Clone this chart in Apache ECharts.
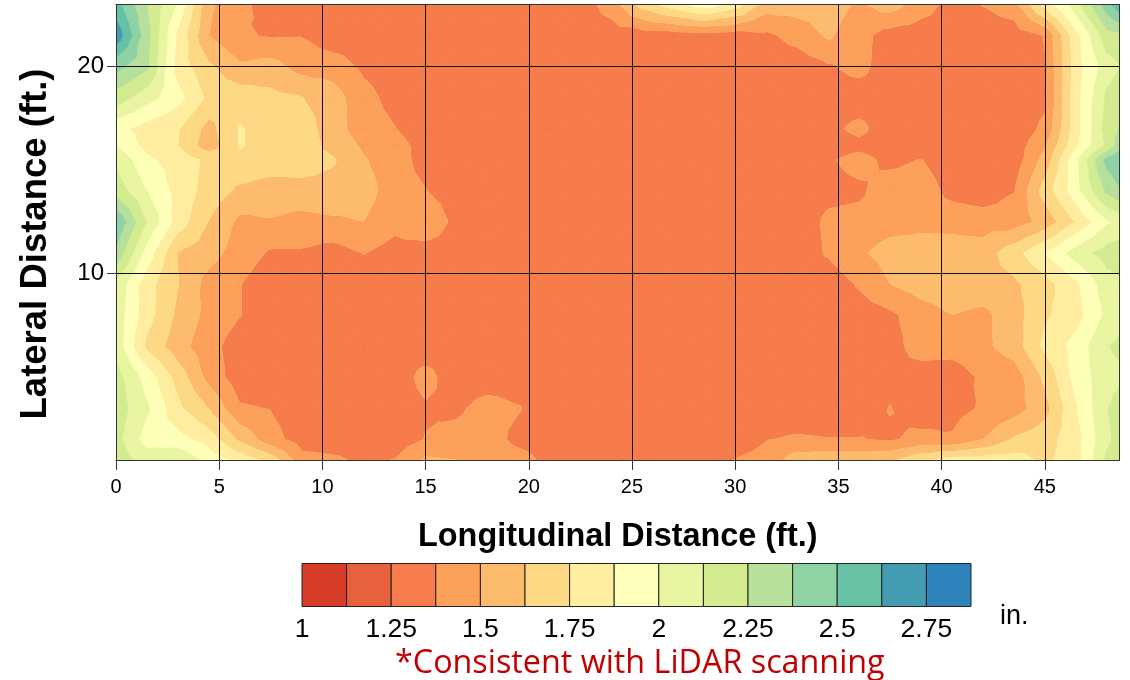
<!DOCTYPE html>
<html><head><meta charset="utf-8">
<style>html,body{margin:0;padding:0;background:#fff}#c{width:1130px;height:680px}</style>
<script src="https://cdn.jsdelivr.net/npm/echarts@6/dist/echarts.min.js"></script>
</head><body><div id="c"></div>
<script>
const xFeet=[0,1.5,3,4.5,6,7.5,9,10.5,12,13.5,15,16.5,18,19.5,21,22.5,24,25.5,27,28.5,30,31.5,33,34.5,36,37.5,39,40.5,42,43.5,45,46.5,48,48.62];
const yFeet=[23,21.5,20,18.5,17,16.2,15.5,14,12.5,11,9.5,8,6.5,5,3.5,2,1];
const row23=[2.56,2.25,1.98,1.52,1.42,1.3,1.3,1.3,1.3,1.3,1.3,1.3,1.3,1.3,1.3,1.3,1.44,1.68,1.82,1.95,1.82,1.56,1.56,1.56,1.48,1.56,1.44,1.33,1.38,1.45,1.8,2.08,2.45,2.6];
const row21_5=[2.72,2.3,1.85,1.5,1.39,1.365,1.37,1.3,1.3,1.3,1.3,1.3,1.3,1.3,1.3,1.3,1.3,1.31,1.31,1.32,1.31,1.35,1.42,1.52,1.42,1.32,1.3,1.3,1.3,1.3,1.38,1.83,2.2,2.22];
const row20=[2.42,2.28,1.82,1.65,1.52,1.55,1.45,1.44,1.35,1.3,1.3,1.3,1.3,1.3,1.3,1.3,1.3,1.3,1.3,1.3,1.3,1.3,1.3,1.36,1.42,1.3,1.3,1.3,1.3,1.3,1.37,1.81,2.07,2.12];
const row18_5=[2.2,2.05,1.92,1.72,1.7,1.66,1.63,1.56,1.42,1.33,1.3,1.3,1.3,1.3,1.3,1.3,1.3,1.3,1.3,1.3,1.3,1.3,1.3,1.3,1.3,1.3,1.3,1.3,1.3,1.3,1.35,1.83,2.15,2.2];
const row17=[1.92,1.82,1.76,1.58,1.76,1.7,1.7,1.55,1.44,1.38,1.3,1.3,1.3,1.3,1.3,1.3,1.3,1.3,1.3,1.3,1.3,1.3,1.3,1.34,1.41,1.3,1.3,1.3,1.3,1.3,1.4,1.82,2.18,2.26];
const row16_2=[2.0,1.83,1.75,1.55,1.76,1.7,1.7,1.58,1.48,1.42,1.33,1.3,1.3,1.3,1.3,1.3,1.3,1.3,1.3,1.3,1.3,1.3,1.3,1.3,1.34,1.3,1.3,1.3,1.3,1.3,1.48,1.85,2.15,2.32];
const row15_5=[2.1,1.9,1.82,1.72,1.72,1.7,1.7,1.64,1.51,1.44,1.32,1.3,1.3,1.3,1.3,1.3,1.3,1.3,1.3,1.3,1.3,1.3,1.3,1.36,1.42,1.34,1.38,1.3,1.3,1.3,1.55,1.97,2.42,2.48];
const row14=[2.2,2.0,1.83,1.7,1.6,1.56,1.57,1.58,1.55,1.44,1.38,1.3,1.3,1.3,1.3,1.3,1.3,1.3,1.3,1.3,1.3,1.3,1.3,1.34,1.35,1.45,1.45,1.33,1.3,1.37,1.68,1.95,2.28,2.36];
const row12_5=[2.5,2.12,1.82,1.62,1.47,1.49,1.46,1.48,1.5,1.42,1.5,1.33,1.3,1.3,1.3,1.3,1.3,1.3,1.3,1.3,1.3,1.3,1.3,1.4,1.42,1.45,1.46,1.46,1.44,1.44,1.54,1.76,1.98,2.03];
const row11=[2.35,1.95,1.62,1.55,1.44,1.36,1.36,1.32,1.38,1.32,1.3,1.3,1.3,1.3,1.3,1.3,1.3,1.3,1.3,1.3,1.3,1.3,1.3,1.39,1.48,1.55,1.57,1.56,1.56,1.7,1.87,2.06,2.18,2.2];
const row9_5=[2.1,1.8,1.63,1.45,1.38,1.3,1.3,1.3,1.3,1.3,1.3,1.3,1.3,1.3,1.3,1.3,1.3,1.3,1.3,1.3,1.3,1.3,1.3,1.3,1.39,1.5,1.56,1.58,1.58,1.6,1.7,1.85,2.07,2.1];
const row8=[2.08,1.8,1.6,1.46,1.38,1.3,1.3,1.3,1.3,1.3,1.3,1.3,1.3,1.3,1.3,1.3,1.3,1.3,1.3,1.3,1.3,1.3,1.3,1.3,1.31,1.35,1.44,1.5,1.47,1.57,1.73,1.82,2.03,2.08];
const row6_5=[2.08,1.72,1.55,1.42,1.31,1.3,1.3,1.3,1.3,1.3,1.3,1.3,1.3,1.3,1.3,1.3,1.3,1.3,1.3,1.3,1.3,1.3,1.3,1.3,1.3,1.32,1.44,1.43,1.47,1.56,1.78,1.92,2.12,2.15];
const row5=[2.18,1.95,1.7,1.46,1.3,1.3,1.3,1.3,1.3,1.3,1.42,1.3,1.3,1.3,1.3,1.3,1.3,1.3,1.3,1.3,1.3,1.3,1.3,1.3,1.3,1.34,1.3,1.3,1.4,1.43,1.65,1.92,2.08,2.1];
const row3_5=[2.2,2.02,1.78,1.62,1.39,1.37,1.3,1.3,1.3,1.3,1.36,1.35,1.43,1.385,1.3,1.3,1.3,1.3,1.3,1.3,1.3,1.3,1.3,1.3,1.3,1.38,1.3,1.33,1.39,1.44,1.58,1.86,2.12,2.18];
const row2=[2.17,1.95,1.92,1.82,1.6,1.42,1.32,1.3,1.3,1.3,1.38,1.42,1.45,1.33,1.3,1.3,1.3,1.3,1.3,1.3,1.3,1.37,1.39,1.38,1.38,1.36,1.41,1.39,1.5,1.64,1.7,1.82,2.1,2.17];
const row1=[2.2,2.07,2.12,1.95,1.83,1.7,1.42,1.4,1.35,1.38,1.52,1.5,1.47,1.44,1.33,1.3,1.3,1.3,1.3,1.3,1.38,1.42,1.57,1.58,1.58,1.6,1.72,1.8,1.81,1.81,1.72,1.82,2.15,2.2];
const depth=[row23,row21_5,row20,row18_5,row17,row16_2,row15_5,row14,row12_5,row11,row9_5,row8,row6_5,row5,row3_5,row2,row1];
const bandEdges=[1,1.125,1.25,1.375,1.5,1.625,1.75,1.875,2,2.125,2.25,2.375,2.5,2.625,2.75,2.875];
const bandColors=['#d73d29','#e9603c','#f67c4b','#fca05a','#fdbb6d','#fed985','#ffeea0','#feffb8','#e9f5a0','#d4ec90','#b6e09b','#8fd2a3','#66c1a5','#449cb2','#2e84bb'];
const xTicks=[0,5,10,15,20,25,30,35,40,45];
const yTicks=[10,20];
const legendTicks=[1,1.25,1.5,1.75,2,2.25,2.5,2.75];

const FONT='"Liberation Sans",Arial,sans-serif';
function clipAbove(poly,level,keepAbove){
  const out=[];
  for(let k=0;k<poly.length;k++){
    const a=poly[k],b=poly[(k+1)%poly.length];
    const ia=keepAbove?a[2]>=level:a[2]<level, ib=keepAbove?b[2]>=level:b[2]<level;
    if(ia)out.push(a);
    if(ia!==ib){const t=(level-a[2])/(b[2]-a[2]);out.push([a[0]+t*(b[0]-a[0]),a[1]+t*(b[1]-a[1]),level]);}
  }
  return out;
}
function bandPath(b,api){
  let d='';
  for(let j=0;j<yFeet.length-1;j++)for(let i=0;i<xFeet.length-1;i++){
    const p=[[xFeet[i],yFeet[j],depth[j][i]],[xFeet[i+1],yFeet[j],depth[j][i+1]],[xFeet[i+1],yFeet[j+1],depth[j+1][i+1]],[xFeet[i],yFeet[j+1],depth[j+1][i]]];
    const c=[(p[0][0]+p[1][0])/2,(p[0][1]+p[3][1])/2,(p[0][2]+p[1][2]+p[2][2]+p[3][2])/4];
    for(let t=0;t<4;t++){
      let poly=clipAbove([p[t],p[(t+1)%4],c],bandEdges[b],true);
      if(poly.length<3)continue;
      poly=clipAbove(poly,bandEdges[b+1],false);
      if(poly.length<3)continue;
      poly.forEach((q,n)=>{const s=api.coord([q[0],q[1]]);d+=(n?'L':'M')+s[0].toFixed(2)+' '+s[1].toFixed(2);});
      d+='Z';
    }
  }
  return d;
}
function renderBand(params,api){
  const b=api.value(2);
  const d=bandPath(b,api);
  if(!d)return null;
  return {type:'path',shape:{pathData:d},style:{fill:bandColors[b],stroke:bandColors[b],lineWidth:0.25}};
}
function renderLegend(params,api){
  const a=api.coord([api.value(0),0]),b=api.coord([api.value(1),1]);
  return {type:'rect',shape:{x:a[0],y:b[1],width:b[0]-a[0],height:a[1]-b[1]},
    style:{fill:bandColors[api.value(2)],stroke:'#222',lineWidth:1}};
}
const bandData=bandColors.map((c,k)=>[xFeet[0],yFeet[0],k]);
const legendData=bandColors.map((c,k)=>[bandEdges[k],bandEdges[k+1],k]);
const lineS={color:'#333',width:1};
const chart=echarts.init(document.getElementById('c'),null,{renderer:'canvas'});
chart.setOption({
  animation:false,backgroundColor:'#fff',
  grid:[{left:116,top:4.5,width:1003.5,height:455.5},{left:302,top:563.5,width:669,height:43}],
  xAxis:[
    {type:'value',gridIndex:0,min:0,max:48.62,z:10,
     axisLine:{show:true,onZero:false,lineStyle:lineS},
     axisTick:{show:true,length:10,customValues:xTicks,lineStyle:lineS},
     axisLabel:{customValues:xTicks,fontFamily:FONT,fontSize:20,color:'#000',margin:17},
     splitLine:{show:true,lineStyle:{color:'#111',width:1}},
     name:'Longitudinal Distance (ft.)',nameLocation:'middle',nameGap:61,
     nameTextStyle:{fontFamily:FONT,fontWeight:'bold',fontSize:32.4,color:'#000'}},
    {type:'value',gridIndex:0,min:0,max:48.62,position:'top',z:10,
     axisLine:{show:true,onZero:false,lineStyle:lineS},axisTick:{show:false},axisLabel:{show:false},splitLine:{show:false}},
    {type:'value',gridIndex:1,min:1,max:2.875,z:10,
     axisLine:{show:false},axisTick:{show:false},splitLine:{show:false},
     axisLabel:{customValues:legendTicks,fontFamily:FONT,fontSize:26.5,color:'#000',margin:10,hideOverlap:false,
       formatter:v=>String(v)}}
  ],
  yAxis:[
    {type:'value',gridIndex:0,min:1,max:23,z:10,
     axisLine:{show:true,onZero:false,lineStyle:lineS},
     axisTick:{show:true,length:9,customValues:yTicks,lineStyle:lineS},
     axisLabel:{customValues:yTicks,fontFamily:FONT,fontSize:24,color:'#000',margin:12},
     splitLine:{show:true,lineStyle:{color:'#111',width:1}}},
    {type:'value',gridIndex:0,min:1,max:23,position:'right',z:10,
     axisLine:{show:true,onZero:false,lineStyle:lineS},axisTick:{show:false},axisLabel:{show:false},splitLine:{show:false}},
    {type:'value',gridIndex:1,min:0,max:1,show:false}
  ],
  series:[
    {type:'custom',xAxisIndex:0,yAxisIndex:0,z:1,clip:true,silent:true,data:bandData,encode:{x:0,y:1},renderItem:renderBand},
    {type:'custom',xAxisIndex:2,yAxisIndex:2,z:1,silent:true,data:legendData,encode:{x:[0,1]},renderItem:renderLegend}
  ],
  graphic:[
    {type:'text',x:36,y:244,rotation:Math.PI/2,style:{text:'Lateral Distance (ft.)',font:'bold 36.5px '+FONT,fill:'#000',align:'center',verticalAlign:'middle'}},
    {type:'text',left:1000,top:603,style:{text:'in.',font:'27px '+FONT,fill:'#000'}},
    {type:'text',left:395,top:648,style:{text:'*Consistent with LiDAR scanning',font:'32.3px "Open Sans"',fill:'#c00000'}}
  ]
});
</script></body></html>
